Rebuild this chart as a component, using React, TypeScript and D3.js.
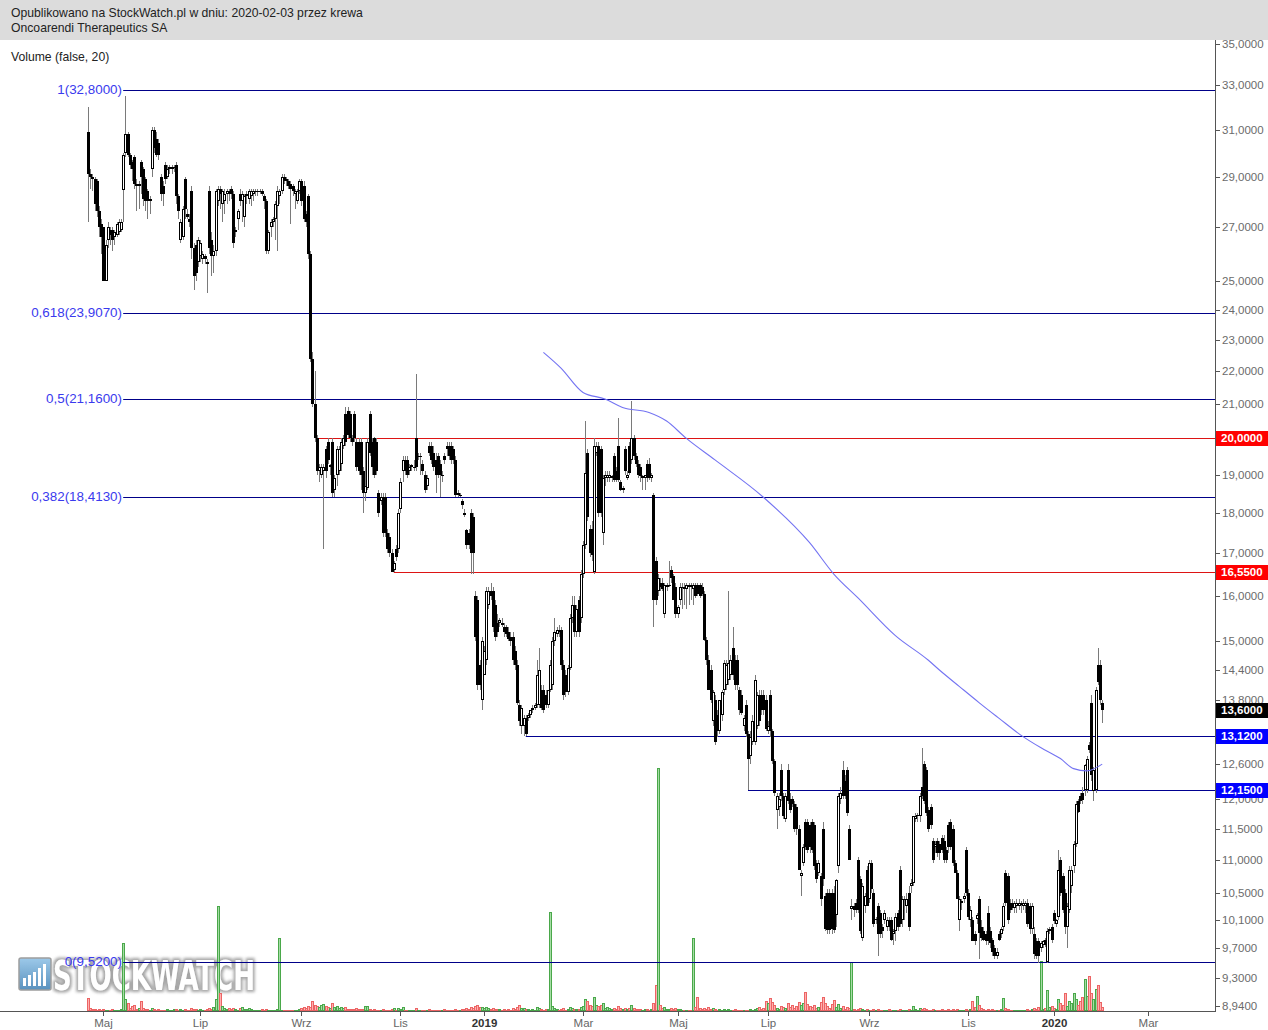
import React, { useEffect } from "react";
import * as d3 from "d3";

// ---------- DATA (daily OHLC, [open, high, low, close]) ----------
const candlesAprJun2018: number[][] = [
  [30.9, 32.0, 27.2, 29.1], [29.1, 29.3, 28.5, 29.0], [29.0, 29.1, 28.4, 28.9], [28.9, 29.0, 27.6, 27.9], [28.8, 28.9, 27.4, 27.6],
  [27.6, 27.8, 26.6, 27.0], [27.1, 27.3, 26.0, 26.6], [27.0, 27.0, 25.0, 25.0], [25.0, 26.5, 25.0, 26.3], [26.5, 27.2, 26.2, 27.0],
  [26.9, 27.0, 26.3, 26.7], [26.9, 27.0, 26.1, 26.5], [26.6, 26.9, 26.3, 26.8], [26.7, 27.2, 26.6, 27.1], [26.8, 27.3, 26.7, 27.2],
  [26.9, 27.3, 26.8, 27.2], [28.45, 30.0, 27.2, 29.9], [30.0, 32.5, 29.8, 30.8], [30.8, 30.9, 29.8, 29.9], [29.9, 30.0, 29.3, 29.5],
  [29.6, 29.7, 28.8, 29.3], [29.8, 29.9, 28.5, 28.7], [28.7, 28.9, 27.6, 28.6], [28.6, 28.8, 27.7, 28.7], [29.6, 29.7, 28.3, 29.0],
  [29.3, 29.4, 27.8, 28.1], [28.9, 29.0, 27.6, 28.0], [28.4, 28.5, 27.3, 28.0], [28.0, 28.2, 27.5, 28.1], [29.3, 31.1, 29.0, 31.0],
  [31.0, 31.1, 30.0, 30.2], [30.6, 30.9, 29.8, 29.9], [30.4, 30.6, 29.7, 29.9], [29.0, 29.1, 28.0, 28.3], [28.6, 28.8, 27.8, 28.3],
  [29.5, 29.6, 28.7, 28.9], [29.0, 29.5, 28.9, 29.3], [29.3, 29.5, 29.1, 29.4], [29.3, 29.5, 29.1, 29.4], [29.4, 29.5, 29.2, 29.4],
  [29.5, 29.6, 27.9, 28.2], [28.2, 28.3, 27.3, 27.6], [26.5, 27.3, 26.4, 27.2], [26.6, 27.8, 26.5, 27.7], [28.9, 29.0, 27.3, 27.7],
  [27.5, 27.7, 27.3, 27.4], [27.3, 27.5, 27.0, 27.2], [28.4, 28.6, 25.8, 26.2], [26.2, 26.4, 24.7, 25.2], [26.3, 26.5, 25.0, 25.3],
];
const candlesJunAug2018: number[][] = [
  [25.7, 26.6, 25.5, 26.5], [25.9, 26.5, 25.7, 26.4], [25.8, 26.1, 25.6, 26.0], [25.9, 26.0, 25.6, 25.8], [25.7, 25.8, 24.6, 25.6],
  [28.4, 28.6, 26.0, 26.2], [26.5, 26.8, 25.2, 25.9], [25.9, 26.3, 25.3, 26.1], [26.1, 28.5, 25.9, 28.4], [28.0, 28.6, 27.8, 28.5],
  [28.5, 28.6, 27.7, 28.3], [27.9, 28.5, 27.2, 28.4], [28.0, 28.5, 27.5, 28.3], [28.3, 28.5, 27.9, 28.4], [28.4, 28.5, 28.0, 28.3],
  [28.5, 28.6, 28.1, 28.3], [28.3, 28.4, 26.2, 26.4], [26.8, 27.0, 26.6, 26.9], [27.3, 27.7, 26.9, 27.6], [28.3, 28.5, 27.8, 28.0],
  [28.0, 28.4, 27.2, 28.3], [27.4, 28.3, 27.0, 28.2], [28.2, 28.4, 27.9, 28.3], [28.1, 28.5, 27.9, 28.4], [28.2, 28.5, 27.8, 28.4],
  [28.3, 28.5, 28.0, 28.4], [28.4, 28.5, 28.2, 28.4], [28.4, 28.5, 28.2, 28.4], [28.4, 28.5, 28.3, 28.4], [28.4, 28.5, 28.2, 28.3],
  [28.2, 28.3, 27.7, 28.0], [28.0, 28.1, 26.0, 26.1], [26.1, 26.9, 26.0, 26.8], [27.0, 27.3, 26.6, 27.2], [27.2, 27.4, 27.0, 27.3],
  [27.3, 28.0, 26.5, 27.9], [27.8, 28.6, 26.1, 28.4], [28.2, 28.5, 27.9, 28.4], [28.4, 29.1, 28.3, 29.0], [29.0, 29.1, 28.7, 28.8],
  [28.9, 29.0, 28.6, 28.8], [28.8, 28.9, 28.5, 28.6], [28.7, 28.8, 27.1, 28.5], [28.6, 28.7, 28.2, 28.4], [28.3, 28.5, 27.7, 28.4],
  [28.0, 28.5, 27.9, 28.4], [28.4, 28.9, 28.3, 28.8], [28.8, 28.9, 27.8, 28.0], [28.6, 28.8, 27.2, 27.3], [27.5, 27.6, 27.0, 27.2],
];
const candlesSepOct2018: number[][] = [
  [28.2, 28.3, 25.8, 26.0], [26.0, 26.1, 22.3, 22.4], [22.4, 22.6, 20.9, 21.0], [21.0, 22.0, 19.9, 20.0], [20.0, 20.1, 19.0, 19.1],
  [19.1, 19.3, 18.8, 19.2], [19.0, 19.3, 18.9, 19.2], [19.1, 19.3, 17.1, 19.2], [19.7, 19.8, 18.9, 19.1], [19.9, 20.0, 19.3, 19.4],
  [19.2, 19.3, 19.0, 19.25], [19.9, 20.0, 18.4, 18.5], [18.6, 19.0, 18.4, 18.9], [19.0, 19.8, 18.7, 19.7], [19.1, 19.8, 19.0, 19.7],
  [19.3, 20.0, 19.1, 19.9], [19.8, 20.1, 19.7, 20.0], [20.7, 20.9, 19.8, 19.9], [20.8, 20.9, 20.0, 20.1], [20.7, 20.8, 19.9, 20.0],
  [20.0, 20.1, 19.8, 19.9], [20.7, 20.8, 19.9, 20.0], [19.9, 20.0, 19.1, 19.2], [19.9, 20.0, 19.0, 19.1], [19.9, 20.0, 18.6, 19.0],
  [19.1, 19.2, 18.0, 18.5], [18.5, 19.9, 18.3, 18.7], [18.65, 20.0, 18.6, 19.9], [20.7, 20.8, 19.5, 19.6], [19.9, 20.0, 19.0, 19.2],
  [20.0, 20.05, 18.9, 19.0], [19.9, 20.0, 19.0, 19.1], [18.5, 18.6, 17.9, 18.0], [18.3, 18.5, 18.2, 18.4], [18.4, 18.5, 17.4, 17.5],
  [18.4, 18.5, 17.4, 17.5], [17.5, 17.6, 17.0, 17.1], [17.4, 17.5, 16.9, 17.0], [17.0, 17.1, 16.55, 16.55], [16.6, 16.8, 16.55, 16.75],
  [17.1, 17.2, 16.8, 16.9], [17.1, 18.1, 17.0, 18.0], [18.1, 18.9, 18.0, 18.8], [19.1, 19.5, 18.8, 19.4], [19.4, 19.5, 19.0, 19.1],
  [19.4, 19.5, 18.9, 19.0], [19.1, 19.3, 19.0, 19.2], [19.2, 19.3, 19.1, 19.25], [19.2, 19.4, 19.1, 19.2], [20.0, 21.9, 19.1, 19.2],
];
const candlesNov2018Jan2019: number[][] = [
  [19.5, 19.6, 19.4, 19.5], [19.5, 19.6, 19.0, 19.5], [19.3, 19.4, 19.0, 19.1], [19.0, 19.1, 18.5, 18.6], [18.7, 19.0, 18.6, 18.9],
  [19.8, 19.9, 19.5, 19.6], [19.8, 19.9, 19.3, 19.4], [19.6, 19.8, 19.1, 19.2], [19.4, 19.6, 18.5, 19.0], [19.5, 19.6, 18.9, 19.0],
  [19.3, 19.4, 18.4, 19.0], [19.0, 19.1, 18.8, 19.0], [19.5, 19.6, 19.3, 19.4], [19.8, 19.9, 19.5, 19.7], [19.8, 19.9, 19.4, 19.5],
  [19.8, 19.9, 19.3, 19.4], [19.7, 19.8, 19.3, 19.4], [19.4, 19.5, 18.4, 18.45], [18.5, 18.6, 18.4, 18.45], [18.45, 18.5, 18.4, 18.45],
  [18.3, 18.35, 18.1, 18.2], [18.0, 18.1, 17.9, 17.95], [17.56, 17.6, 17.1, 17.2], [17.5, 17.6, 17.1, 17.2], [18.0, 18.1, 16.5, 17.0],
  [17.9, 18.0, 16.5, 17.0], [16.0, 16.1, 15.0, 15.1], [15.9, 16.0, 14.0, 14.1], [14.5, 14.6, 14.0, 14.1], [13.8, 15.1, 13.6, 15.0],
  [14.3, 14.9, 14.3, 14.8], [14.6, 16.2, 14.5, 16.1], [15.8, 16.2, 15.7, 16.1], [16.1, 16.3, 15.9, 16.0], [16.1, 16.2, 15.2, 15.3],
  [15.8, 15.9, 15.0, 15.1], [15.4, 15.6, 15.1, 15.2], [15.4, 15.5, 15.3, 15.45], [15.4, 15.5, 15.3, 15.35], [15.3, 15.4, 15.1, 15.2],
  [15.3, 15.35, 15.1, 15.15], [15.2, 15.3, 15.0, 15.05], [15.1, 15.2, 14.9, 15.0], [15.1, 15.2, 14.5, 14.6], [14.8, 14.9, 14.4, 14.5],
  [14.5, 14.6, 13.7, 13.75], [13.7, 13.8, 13.3, 13.4], [13.3, 13.7, 13.15, 13.65], [13.3, 13.5, 13.12, 13.45], [13.45, 13.5, 13.12, 13.15],
];
const candlesJanMar2019: number[][] = [
  [13.45, 13.55, 13.4, 13.5], [13.5, 13.6, 13.45, 13.6], [13.6, 13.7, 13.55, 13.65], [13.65, 13.75, 13.6, 13.7], [13.7, 14.6, 13.65, 14.3],
  [13.7, 14.85, 13.65, 14.4], [14.0, 14.1, 13.6, 13.65], [14.0, 14.1, 13.55, 13.6], [13.9, 14.0, 13.65, 13.7], [13.7, 14.0, 13.65, 14.0],
  [14.0, 14.6, 13.95, 14.5], [14.1, 15.1, 14.0, 15.0], [15.0, 15.5, 14.9, 15.2], [15.15, 15.3, 15.1, 15.25], [15.25, 15.35, 15.1, 15.2],
  [15.25, 15.3, 14.4, 14.5], [14.5, 14.6, 13.8, 13.9], [14.3, 14.4, 13.85, 13.95], [13.95, 14.5, 13.9, 14.45], [14.45, 15.6, 14.4, 15.5],
  [15.5, 16.0, 15.4, 15.8], [15.8, 16.0, 15.1, 15.2], [15.2, 15.8, 15.1, 15.7], [15.9, 16.0, 15.1, 15.2], [15.5, 16.6, 15.4, 16.5],
  [16.5, 17.3, 16.4, 17.2], [17.2, 20.5, 17.1, 19.05], [19.6, 19.7, 17.8, 17.9], [17.6, 17.7, 16.9, 17.0], [17.6, 17.8, 16.8, 16.95],
  [16.55, 20.0, 16.5, 19.8], [19.6, 19.9, 19.5, 19.8], [19.8, 19.9, 17.9, 18.0], [19.7, 19.8, 17.9, 18.0], [17.5, 19.0, 17.2, 18.9],
  [18.9, 19.1, 18.7, 19.0], [18.9, 19.1, 18.8, 19.0], [18.9, 19.1, 18.8, 19.0], [18.9, 19.0, 18.8, 18.95], [19.5, 19.6, 18.8, 18.85],
  [19.1, 19.2, 18.8, 18.85], [19.8, 20.6, 18.8, 18.85], [18.8, 18.85, 18.55, 18.6], [18.6, 18.7, 18.5, 18.65], [19.7, 19.8, 19.0, 19.1],
  [18.9, 19.1, 18.85, 19.0], [19.8, 19.9, 19.0, 19.05], [19.4, 21.1, 19.3, 20.0], [20.0, 20.1, 19.4, 19.5], [19.5, 19.6, 19.2, 19.3],
];
const candlesAprJun2019: number[][] = [
  [19.3, 19.4, 18.9, 19.0], [19.2, 19.3, 18.8, 18.95], [18.9, 19.0, 18.6, 18.95], [18.9, 19.0, 18.6, 19.0], [19.3, 19.4, 18.8, 18.9],
  [19.3, 19.45, 18.85, 18.9], [18.9, 19.05, 18.8, 19.0], [18.45, 18.5, 15.3, 15.9], [16.8, 16.9, 15.8, 15.9], [16.1, 16.5, 16.0, 16.4],
  [16.3, 16.4, 16.1, 16.2], [16.3, 16.4, 16.1, 16.15], [15.6, 16.3, 15.5, 16.25], [16.2, 16.3, 16.1, 16.25], [16.25, 16.8, 16.2, 16.25],
  [16.6, 16.7, 16.3, 16.4], [16.45, 16.5, 15.9, 15.9], [16.2, 16.3, 15.5, 15.6], [15.6, 15.8, 15.5, 15.75], [15.9, 16.3, 15.8, 16.2],
  [16.2, 16.3, 15.7, 16.2], [16.2, 16.3, 15.8, 16.15], [16.15, 16.3, 15.7, 16.25], [16.25, 16.3, 15.8, 16.2], [16.25, 16.3, 15.9, 16.2],
  [16.15, 16.3, 15.8, 16.25], [16.25, 16.3, 15.95, 16.0], [16.25, 16.3, 16.0, 16.05], [16.25, 16.3, 15.95, 16.0], [16.2, 16.3, 16.0, 16.05],
  [16.05, 16.1, 15.0, 15.03], [15.03, 15.1, 14.5, 14.6], [14.6, 14.7, 14.0, 14.0], [14.4, 14.5, 13.75, 13.8], [13.4, 14.0, 13.3, 13.95],
  [13.8, 13.9, 12.95, 13.0], [13.5, 13.6, 13.1, 13.2], [13.2, 13.8, 13.15, 13.8], [13.5, 14.0, 13.4, 13.95], [14.0, 14.6, 13.9, 14.55],
  [14.1, 14.6, 14.0, 14.5], [14.2, 16.1, 14.1, 14.55], [14.3, 14.7, 14.2, 14.6], [14.85, 15.3, 14.2, 14.3], [14.6, 14.7, 14.0, 14.1],
  [14.6, 14.7, 14.0, 14.1], [14.0, 14.05, 13.5, 13.6], [13.9, 14.0, 13.5, 13.55], [13.3, 13.5, 13.2, 13.45], [13.7, 13.8, 13.1, 13.15],
];
const candlesJulAug2019: number[][] = [
  [13.15, 13.2, 12.15, 12.7], [12.75, 13.2, 12.6, 13.1], [13.0, 13.5, 12.95, 13.4], [13.0, 14.3, 12.95, 14.2], [13.3, 13.95, 13.25, 13.9],
  [13.9, 14.0, 13.3, 13.4], [13.9, 14.0, 13.5, 13.6], [13.9, 14.0, 13.5, 13.6], [13.8, 13.9, 13.2, 13.25], [13.2, 13.4, 13.15, 13.3],
  [13.9, 14.0, 13.1, 13.2], [13.2, 13.25, 12.6, 12.65], [12.65, 12.7, 12.05, 12.1], [11.8, 12.1, 11.5, 12.05], [11.85, 12.1, 11.7, 12.0],
  [12.5, 12.6, 11.95, 12.05], [12.05, 12.1, 11.65, 11.7], [11.65, 12.1, 11.6, 12.05], [12.5, 12.6, 11.9, 11.95], [12.0, 12.1, 11.75, 11.8],
  [12.0, 12.05, 11.85, 11.9], [11.9, 11.95, 11.45, 11.5], [11.85, 11.9, 11.4, 11.5], [11.5, 11.55, 10.85, 10.85], [10.75, 10.85, 10.45, 10.8],
  [10.95, 11.25, 10.9, 11.2], [11.6, 11.65, 11.15, 11.2], [11.6, 11.65, 11.1, 11.15], [11.55, 11.6, 11.1, 11.2], [11.6, 11.65, 11.1, 11.15],
  [11.55, 11.6, 10.85, 10.9], [10.95, 11.0, 10.65, 10.7], [10.8, 11.0, 10.75, 10.95], [10.75, 10.8, 10.3, 10.4], [11.5, 11.6, 10.6, 10.7],
  [10.45, 10.5, 9.95, 9.97], [10.5, 10.55, 9.9, 9.96], [10.5, 10.55, 9.9, 9.96], [10.5, 10.55, 9.9, 9.97], [10.5, 10.6, 9.92, 9.96],
  [10.17, 10.7, 10.0, 10.69], [10.9, 12.1, 10.8, 12.05], [12.0, 12.2, 11.9, 12.1], [12.5, 12.65, 12.0, 12.05], [12.3, 12.4, 12.0, 12.05],
  [12.5, 12.55, 11.7, 11.75], [11.5, 11.55, 11.0, 11.0], [10.26, 10.4, 10.1, 10.3], [10.3, 10.35, 10.15, 10.25], [10.35, 10.4, 10.2, 10.25],
];
const candlesSepOct2019: number[][] = [
  [11.0, 11.05, 10.2, 10.25], [10.7, 10.75, 9.9, 9.95], [9.85, 10.65, 9.8, 10.6], [10.3, 10.5, 10.2, 10.45], [10.85, 10.9, 10.3, 10.3],
  [10.4, 11.0, 10.35, 10.95], [10.95, 11.0, 10.5, 10.55], [10.5, 10.55, 10.0, 10.05], [10.1, 10.15, 10.05, 10.12], [10.3, 10.35, 9.6, 9.9],
  [10.2, 10.25, 9.85, 9.9], [10.0, 10.05, 9.85, 9.95], [10.1, 10.25, 10.05, 10.2], [10.0, 10.15, 9.95, 10.1], [10.1, 10.15, 9.95, 10.0],
  [10.1, 10.15, 9.8, 9.82], [9.9, 9.97, 9.75, 9.95], [9.95, 10.2, 9.8, 10.15], [10.2, 10.25, 9.95, 10.0], [10.85, 10.9, 10.0, 10.05],
  [10.1, 10.45, 10.0, 10.4], [10.4, 10.45, 10.1, 10.4], [10.3, 10.5, 10.2, 10.4], [10.5, 10.6, 9.95, 10.0], [10.6, 10.7, 10.5, 10.65],
  [10.65, 11.7, 10.6, 11.7], [11.65, 11.75, 11.6, 11.7], [11.7, 11.75, 11.6, 11.72], [11.7, 12.1, 11.6, 12.05], [12.2, 12.9, 12.0, 12.05],
  [12.6, 12.65, 11.9, 11.95], [12.5, 12.55, 11.7, 11.75], [11.8, 11.85, 11.45, 11.5], [11.85, 11.9, 11.5, 11.55], [11.3, 11.35, 10.95, 11.0],
  [11.2, 11.3, 11.1, 11.25], [11.3, 11.35, 11.05, 11.1], [11.25, 11.3, 11.0, 11.1], [11.35, 11.4, 11.1, 11.15], [11.3, 11.4, 10.95, 11.0],
  [11.15, 11.2, 10.95, 11.0], [11.55, 11.6, 11.1, 11.2], [11.6, 11.65, 11.15, 11.2], [11.5, 11.55, 10.9, 10.95], [10.95, 11.0, 10.8, 10.8],
  [10.8, 10.85, 10.4, 10.4], [10.1, 10.45, 9.95, 10.4], [10.35, 10.4, 10.25, 10.38], [10.4, 10.5, 10.35, 10.45], [11.15, 11.2, 10.45, 10.5],
];
const candlesNov2019Feb2020: number[][] = [
  [10.5, 10.55, 10.1, 10.15], [10.1, 10.3, 10.0, 10.25], [10.1, 10.15, 9.8, 9.8], [9.9, 9.95, 9.75, 9.8], [10.12, 10.2, 10.05, 10.17],
  [10.4, 10.45, 9.55, 9.92], [10.0, 10.1, 9.8, 9.85], [9.95, 10.0, 9.8, 9.82], [9.9, 9.95, 9.75, 9.8], [10.2, 10.3, 9.75, 9.8],
  [9.95, 10.0, 9.7, 9.78], [9.82, 9.85, 9.6, 9.65], [9.7, 9.75, 9.55, 9.6], [9.6, 9.7, 9.55, 9.65], [9.9, 9.95, 9.8, 9.82],
  [9.9, 10.0, 9.85, 9.97], [10.0, 10.35, 9.95, 10.3], [10.8, 10.85, 10.3, 10.35], [10.75, 10.8, 10.05, 10.1], [10.35, 10.4, 10.2, 10.25],
  [10.35, 10.4, 10.25, 10.28], [10.28, 10.38, 10.2, 10.35], [10.3, 10.4, 10.2, 10.35], [10.3, 10.4, 10.25, 10.35], [10.32, 10.38, 10.2, 10.35],
  [10.3, 10.4, 10.25, 10.35], [10.3, 10.38, 10.2, 10.35], [10.35, 10.4, 10.0, 10.05], [10.3, 10.35, 9.9, 9.97], [9.97, 10.35, 9.9, 10.3],
  [9.9, 10.0, 9.55, 9.62], [9.8, 9.85, 9.55, 9.6], [9.8, 9.85, 9.5, 9.6], [9.7, 9.8, 9.65, 9.78], [9.75, 9.82, 9.7, 9.8],
  [9.82, 9.85, 9.72, 9.75], [9.52, 9.98, 9.5, 9.95], [9.95, 10.0, 9.9, 9.97], [10.0, 10.05, 9.78, 9.82], [10.2, 10.25, 10.05, 10.08],
  [10.05, 10.12, 10.0, 10.1], [10.15, 11.15, 10.1, 10.85], [11.0, 11.05, 10.45, 10.5], [10.75, 10.8, 10.2, 10.25], [10.5, 10.55, 9.9, 10.0],
  [10.0, 10.35, 9.7, 10.3], [10.25, 10.9, 10.2, 10.85], [10.6, 10.9, 10.5, 10.85], [10.9, 11.3, 10.8, 11.25], [11.25, 11.95, 11.2, 11.9],
  [11.95, 12.0, 11.75, 11.78], [12.05, 12.1, 11.9, 11.95], [12.1, 12.2, 11.9, 11.97], [12.15, 12.6, 12.05, 12.58], [12.15, 12.75, 12.1, 12.7],
  [12.95, 13.0, 12.8, 12.85], [13.75, 13.9, 12.3, 12.4], [12.12, 12.55, 11.95, 12.5], [12.15, 14.05, 12.1, 14.0], [14.5, 14.85, 14.1, 14.15],
  [14.5, 14.6, 13.7, 13.8], [13.75, 13.8, 13.35, 13.6],
];

// daily volume (relative units)
const volumes2018: number[] = [
  13, 3, 2, 2, 1, 2, 1, 2, 1, 1, 1, 2, 1, 1, 1, 2, 68, 12, 8, 3, 5, 6, 2, 3, 10, 3, 2, 2, 1, 3, 2, 1, 2, 1, 1, 1, 2, 1, 1, 2, 2, 1, 2, 1, 2, 1, 1, 3, 2, 2,
  1, 2, 1, 1, 2, 3, 2, 4, 12, 105, 18, 5, 3, 2, 3, 2, 3, 2, 1, 3, 4, 2, 2, 3, 2, 1, 1, 1, 1, 2, 1, 2, 1, 1, 1, 1, 2, 73, 1, 1, 1, 1, 1, 1, 1, 1, 2, 3, 4, 3,
  5, 4, 10, 6, 5, 4, 6, 7, 5, 4, 3, 8, 4, 5, 3, 4, 3, 4, 2, 2, 2, 2, 3, 2, 2, 2, 5, 5, 2, 1, 2, 1, 1, 1, 2, 1, 1, 1, 2, 3, 1, 3, 2, 4, 1, 1, 1, 1, 1, 3,
  1, 1, 1, 1, 1, 2, 1, 1, 1, 1, 1, 1, 2, 1, 1, 1, 1, 2, 1, 1, 2, 2, 3, 2, 4, 3, 5, 6, 4, 4, 3, 4, 3, 2, 3, 2, 2, 2, 1, 2, 1, 2, 1, 3, 2, 4, 6, 3, 3, 2,
];
const volumes2019: number[] = [
  2, 1, 2, 1, 4, 3, 2, 1, 2, 2, 99, 5, 3, 2, 1, 2, 3, 1, 2, 4, 3, 2, 2, 2, 4, 5, 12, 10, 6, 5, 14, 6, 5, 6, 8, 3, 4, 3, 2, 3, 2, 5, 3, 2, 3, 2, 3, 6, 3, 2,
  2, 2, 1, 2, 2, 1, 2, 8, 26, 243, 6, 3, 4, 2, 2, 3, 2, 3, 2, 2, 1, 1, 1, 1, 1, 73, 4, 14, 3, 2, 3, 2, 4, 2, 3, 2, 1, 2, 1, 2, 1, 2, 1, 1, 2, 1, 1, 1, 1, 1,
  1, 2, 1, 2, 3, 4, 2, 3, 10, 8, 13, 9, 6, 3, 2, 5, 4, 3, 8, 4, 6, 3, 5, 9, 6, 8, 19, 7, 5, 4, 6, 3, 4, 9, 14, 8, 5, 3, 7, 11, 4, 7, 3, 5, 2, 4, 3, 49, 2, 1,
  2, 3, 2, 1, 2, 1, 1, 2, 1, 2, 1, 1, 1, 1, 2, 1, 1, 1, 1, 2, 1, 1, 1, 2, 1, 5, 2, 1, 3, 2, 3, 2, 1, 1, 2, 1, 1, 1, 2, 1, 1, 2, 1, 2, 1, 2, 1, 1, 1, 2,
  1, 2, 10, 4, 15, 6, 3, 2, 1, 2, 1, 2, 1, 1, 1, 2, 13, 3, 2, 1, 1, 1, 1, 1, 1, 1, 1, 2, 1, 2, 3, 2, 4, 50, 2, 3, 21, 4, 5, 3, 2, 12, 8, 6, 18, 5, 10, 8, 18, 12,
  6, 10, 14, 32, 15, 35, 18, 12, 22, 26, 9, 4,
];

// moving average line (trading-day index, value)
const maDays = [207, 215, 225, 235, 243, 255, 263, 272, 285, 307, 328, 339, 350, 367, 382, 387, 396, 405, 414, 424, 433, 442, 448, 454, 461];
const maValues = [22.6, 22.1, 21.35, 21.15, 20.9, 20.75, 20.5, 20.0, 19.4, 18.4, 17.25, 16.5, 15.95, 15.12, 14.6, 14.4, 14.07, 13.75, 13.45, 13.13, 12.9, 12.7, 12.52, 12.48, 12.6];

const priceTicks = [35, 33, 31, 29, 27, 25, 24, 23, 22, 21, 20, 19, 18, 17, 16, 15, 14.4, 13.8, 13.2, 12.6, 12, 11.5, 11, 10.5, 10.1, 9.7, 9.3, 8.94];

const xTickLabels = ["Maj", "Lip", "Wrz", "Lis", "2019", "Mar", "Maj", "Lip", "Wrz", "Lis", "2020", "Mar"];
const xTickDays = [7, 51, 97, 142, 180, 225, 268, 309, 355, 400, 439, 482];
const xTickIsYear = [false, false, false, false, true, false, false, false, false, false, true, false];

const fibLevels = [1, 0.618, 0.5, 0.382, 0];
const fibPrices = [32.8, 23.907, 21.16, 18.413, 9.52];
const fibStartDay = 16;

const levelPrices = [20.0, 16.55, 13.12, 12.15];
const levelStartDays = [105, 139, 199, 300];
const levelColors = ["#dd1414", "#dd1414", "#000090", "#000090"];

const markerPrices = [20.0, 16.55, 13.6, 13.12, 12.15];
const markerColors = ["#ff0000", "#ff0000", "#000000", "#0000ff", "#0000ff"];

const headerLines = ["Opublikowano na StockWatch.pl w dniu: 2020-02-03 przez krewa", "Oncoarendi Therapeutics SA"];
const legendText = "Volume (false, 20)";

// ---------- CHART ----------
const W = 1268;
const H = 1030;
const PLOT_RIGHT = 1215;
const AXIS_Y = 1011;
const FONT = "'Liberation Sans', Arial, sans-serif";

const fmt = (v: number) => v.toFixed(4).replace(".", ",");

export default function App() {
  useEffect(() => {
    document.body.style.margin = "0";
  }, []);

  const candles = [
    ...candlesAprJun2018, ...candlesJunAug2018, ...candlesSepOct2018, ...candlesNov2018Jan2019,
    ...candlesJanMar2019, ...candlesAprJun2019, ...candlesJulAug2019, ...candlesSepOct2019, ...candlesNov2019Feb2020,
  ];
  const volumes = [...volumes2018, ...volumes2019];
  const n = candles.length;

  const x = d3.scaleLinear().domain([0, n - 1]).range([88, 1102.2]);
  const y = d3.scaleLog().domain([8.94, 35]).range([1006, 44]);
  const yv = d3.scaleLinear().domain([0, 250]).range([AXIS_Y, AXIS_Y - 250]);

  const maLine = d3
    .line<number>()
    .x((_, i) => x(maDays[i]))
    .y((v) => y(v))
    .curve(d3.curveMonotoneX)(maValues) as string;

  // tick labels that sit completely under a price marker box are not drawn
  const visibleTicks = priceTicks.filter((t) => markerPrices.every((m) => Math.abs(y(t) - y(m)) > 5));

  return (
    <svg
      width={W}
      height={H}
      viewBox={`0 0 ${W} ${H}`}
      style={{ position: "absolute", left: 0, top: 0, background: "#fff", fontFamily: FONT }}
    >
      <defs>
        <linearGradient id="wmIcon" x1="0" y1="0" x2="0" y2="1">
          <stop offset="0" stopColor="#8cc0e6" />
          <stop offset="1" stopColor="#3d7fb3" />
        </linearGradient>
        <filter id="wmGlow" x="-10%" y="-30%" width="120%" height="160%">
          <feMorphology in="SourceAlpha" operator="dilate" radius="1.6" result="d" />
          <feGaussianBlur in="d" stdDeviation="1.6" result="b" />
          <feFlood floodColor="#8a8a8a" floodOpacity="0.9" />
          <feComposite in2="b" operator="in" result="s" />
          <feMerge>
            <feMergeNode in="s" />
            <feMergeNode in="SourceGraphic" />
          </feMerge>
        </filter>
      </defs>

      {/* header */}
      <rect x={0} y={0} width={W} height={40} fill="#dcdcdc" />
      {headerLines.map((t, i) => (
        <text key={t} x={11} y={17 + i * 14.5} fontSize={12.2} fill="#222">
          {t}
        </text>
      ))}
      <text x={11} y={61} fontSize={12.2} fill="#222">
        {legendText}
      </text>

      {/* watermark */}
      <g opacity={0.85}>
        <rect x={19} y={958} width={32} height={32} rx={2} fill="url(#wmIcon)" stroke="#8d8d8d" strokeWidth={1.5} />
        {[8, 11, 14, 18, 22].map((h, i) => (
          <rect key={i} x={23 + i * 5} y={986 - h} width={3} height={h} fill="#fff" />
        ))}
        <text
          x={53}
          y={990}
          fontSize={41}
          fontWeight="bold"
          fontFamily="'Liberation Sans Narrow', 'DejaVu Sans Condensed', 'Liberation Sans', sans-serif"
          textLength={202}
          lengthAdjust="spacingAndGlyphs"
          fill="#ffffff"
          filter="url(#wmGlow)"
        >
          STOCKWATCH
        </text>
      </g>

      {/* volume bars */}
      <g shapeRendering="crispEdges">
        {volumes.map((v, i) => {
          const c = candles[i];
          const up = c[3] >= c[0];
          const cx = Math.round(x(i));
          const top = Math.round(yv(v));
          const h = Math.max(1, AXIS_Y - top);
          return (
            <rect
              key={i}
              x={cx - 0.5}
              y={top + 0.5}
              width={2}
              height={Math.max(0.5, h - 1)}
              fill={up ? "#a6dca6" : "#ffb0b0"}
              stroke={up ? "#4aa84a" : "#ec6464"}
              strokeWidth={1}
            />
          );
        })}
      </g>

      {/* fibonacci levels */}
      {fibLevels.map((lv, i) => {
        const yy = Math.round(y(fibPrices[i])) + 0.5;
        return (
          <g key={lv}>
            <line x1={x(fibStartDay)} x2={PLOT_RIGHT} y1={yy} y2={yy} stroke="#000088" strokeWidth={1} />
            <text x={122} y={yy} fontSize={13.4} fill="#3a3aee" textAnchor="end" dominantBaseline="middle">
              {`${String(lv).replace(".", ",")}(${fmt(fibPrices[i])})`}
            </text>
          </g>
        );
      })}

      {/* horizontal levels */}
      {levelPrices.map((p, i) => {
        const yy = Math.round(y(p)) + 0.5;
        return (
          <line key={p} x1={x(levelStartDays[i])} x2={PLOT_RIGHT} y1={yy} y2={yy} stroke={levelColors[i]} strokeWidth={1} />
        );
      })}

      {/* candles */}
      <g shapeRendering="crispEdges">
        {candles.map((c, i) => {
          const [o, h, l, cl] = c;
          const cx = Math.round(x(i));
          const yh = Math.round(y(h));
          const yl = Math.round(y(l));
          const top = Math.round(y(Math.max(o, cl)));
          const bot = Math.round(y(Math.min(o, cl)));
          const up = cl >= o;
          return (
            <g key={i}>
              <line x1={cx + 0.5} x2={cx + 0.5} y1={yh} y2={yl} stroke="#7a7a7a" strokeWidth={1} />
              {up ? (
                <rect x={cx - 0.5} y={top + 0.5} width={2} height={Math.max(0.01, bot - top - 1)} fill="#fff" stroke="#000" strokeWidth={1} />
              ) : (
                <rect x={cx - 1} y={top} width={3} height={Math.max(1, bot - top)} fill="#000" />
              )}
            </g>
          );
        })}
      </g>

      {/* moving average */}
      <path d={maLine} fill="none" stroke="#7474f2" strokeWidth={1.1} />

      {/* right axis */}
      <line x1={PLOT_RIGHT + 0.5} x2={PLOT_RIGHT + 0.5} y1={40} y2={AXIS_Y + 1} stroke="#555" strokeWidth={1} />
      {priceTicks.map((t) => {
        const yy = Math.round(y(t)) + 0.5;
        return <line key={t} x1={PLOT_RIGHT} x2={PLOT_RIGHT + 5} y1={yy} y2={yy} stroke="#555" />;
      })}
      {visibleTicks.map((t) => {
        const yy = Math.round(y(t)) + 0.5;
        return (
          <text key={t} x={PLOT_RIGHT + 7} y={yy} fontSize={11.5} fill="#6b6b6b" dominantBaseline="middle">
            {fmt(t)}
          </text>
        );
      })}

      {/* price markers */}
      {markerPrices.map((p, i) => {
        const yy = y(p);
        return (
          <g key={p}>
            <rect x={PLOT_RIGHT + 1} y={Math.round(yy) - 7} width={W - PLOT_RIGHT - 1} height={15} fill={markerColors[i]} />
            <text x={PLOT_RIGHT + 6} y={Math.round(yy) + 0.5} fontSize={11.5} fontWeight="bold" fill="#fff" dominantBaseline="middle">
              {fmt(p)}
            </text>
          </g>
        );
      })}

      {/* bottom axis */}
      <line x1={0} x2={PLOT_RIGHT + 1} y1={AXIS_Y + 0.5} y2={AXIS_Y + 0.5} stroke="#555" strokeWidth={1} />
      {xTickDays.map((d, i) => {
        const xx = Math.round(x(d)) + 0.5;
        return (
          <g key={i}>
            <line x1={xx} x2={xx} y1={AXIS_Y} y2={AXIS_Y + 5} stroke="#555" />
            <text
              x={xx}
              y={1027}
              fontSize={11.5}
              textAnchor="middle"
              fill={xTickIsYear[i] ? "#333" : "#666"}
              fontWeight={xTickIsYear[i] ? "bold" : "normal"}
            >
              {xTickLabels[i]}
            </text>
          </g>
        );
      })}
    </svg>
  );
}
